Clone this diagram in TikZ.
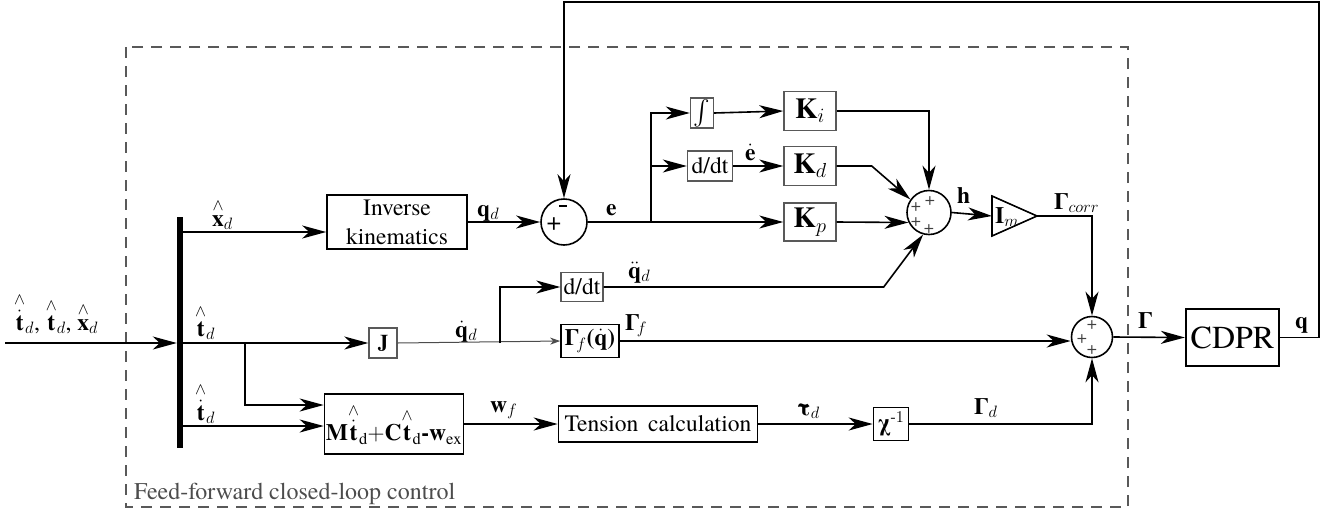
\documentclass[tikz,border=0pt]{standalone}
\usepackage{fix-cm}
\usepackage{amsmath}
\usepackage{fontspec}
\setmainfont{texgyretermes}[Extension=.otf, UprightFont=*-regular, BoldFont=*-bold, ItalicFont=*-italic, BoldItalicFont=*-bolditalic]
\usetikzlibrary{arrows.meta}

\newcommand{\bGam}{\text{\bfseries Γ}}
\newcommand{\bchi}{\text{\bfseries χ}}
\newcommand{\btau}{\text{\bfseries τ}}
\newcommand{\hatv}[1]{\overset{\wedge}{#1}}

\begin{document}
\begin{tikzpicture}[x=1pt,y=-1pt]
	\tikzstyle{every node}+=[inner sep=0pt, font=\fontsize{23.5}{29}\selectfont]
	\tikzstyle{blk}=[draw=black, line width=1.6pt, rectangle]
	\tikzstyle{gblk}=[draw=black!65, line width=1.4pt, rectangle]
	\tikzstyle{sum}=[draw=black, line width=1.6pt, circle]
	\tikzstyle{sig}=[black, line width=1.6pt]
	\tikzstyle{arr}=[sig, -{Stealth[length=24pt,width=13pt,inset=7pt]}]
	\tikzstyle{sarr}=[black!70, line width=1pt, -{Stealth[length=10pt,width=7pt,inset=3pt]}]
	\tikzstyle{lbl}=[anchor=base west]
	\tikzstyle{pl}=[text=black!75, font=\fontsize{18}{18}\selectfont]
	\useasboundingbox (0,0) rectangle (1331,512);
	% dashed frame
	\draw [black!65, line width=1.2pt, dash pattern=on 11pt off 8pt] (126,47) rectangle (1128,507);
	\node [lbl, text=black!70, font=\fontsize{24}{26}\selectfont] (ffc) at (134,499) {Feed-forward closed-loop control};
	% blocks
	\node [fill=black, minimum width=6, minimum height=231] (bar) at (180,332.5) {};
	\node [blk, align=center, minimum width=140, minimum height=54] (ik) at (397,222) {Inverse\\kinematics};
	\node [sum, minimum size=46] (sum1) at (564,222) {};
	\node [gblk, minimum width=23, minimum height=30, font=\fontsize{26}{26}\selectfont] (int) at (702,113) {$\int$};
	\node [gblk, minimum width=52, minimum height=39, font=\fontsize{29}{29}\selectfont] (ki) at (810,111) {$\mathbf{K}_i$};
	\node [gblk, minimum width=45, minimum height=30] (dif1) at (710,166) {d/dt};
	\node [gblk, minimum width=52, minimum height=39, font=\fontsize{29}{29}\selectfont] (kd) at (810,166) {$\mathbf{K}_d$};
	\node [gblk, minimum width=52, minimum height=38, font=\fontsize{29}{29}\selectfont] (kp) at (810,222) {$\mathbf{K}_p$};
	\node [sum, minimum size=44] (sum2) at (929,212.5) {};
	\draw [sig] (992,196) -- (1037,216) -- (992,236) -- cycle;
	\coordinate (imin) at (992,216);
	\coordinate (imout) at (1037,216);
	\node (iml) at (1007,217) {$\mathbf{I}_m$};
	\node [sum, minimum size=41] (sum3) at (1092,337) {};
	\node [draw=black, line width=2.2pt, minimum width=93, minimum height=57, font=\fontsize{32}{32}\selectfont] (cdpr) at (1232.5,337.5) {CDPR};
	\node [gblk, minimum width=28, minimum height=30, font=\fontsize{21}{21}\selectfont] (jb) at (383,343) {$\mathbf{J}$};
	\node [gblk, minimum width=42, minimum height=29] (dif2) at (582,287) {d/dt};
	\node [blk, minimum width=58, minimum height=33] (gf) at (590,341) {$\bGam_{\!f}$\textbf{(}$\dot{\mathbf{q}}$\textbf{)}};
	\node [blk, minimum width=139, minimum height=60] (mb) at (394,424) {$\mathbf{M}\hatv{\dot{\mathbf{t}}}_\mathrm{d}{+}\mathbf{C}\hatv{\mathbf{t}}_\mathrm{d}\textbf{-}\mathbf{w}_\mathrm{ex}$};
	\node [blk, minimum width=199, minimum height=36] (ten) at (658,424) {Tension~\,calculation};
	\node [blk, minimum width=35, minimum height=33] (chi) at (891,424) {$\bchi^{\text{-}1}$};
	% signs in the junctions
	\node (m1) at (563,206) {\rule{8pt}{2.5pt}};
	\node [font=\fontsize{26}{26}\selectfont] (p1) at (554,224) {+};
	\node [pl] (p2) at (916,207) {+};
	\node [pl] (p3) at (930,201) {+};
	\node [pl] (p4) at (916,222) {+};
	\node [pl] (p5) at (929,229) {+};
	\node [pl] (p6) at (1092,325) {+};
	\node [pl] (p7) at (1082,339) {+};
	\node [pl] (p8) at (1092,350) {+};
	% branch points
	\coordinate (in) at (5,343);
	\coordinate (r1) at (183,232);
	\coordinate (r2) at (183,343);
	\coordinate (r3) at (183,426);
	\coordinate (b1) at (651,222);
	\coordinate (b2) at (245,343);
	\coordinate (b3) at (500,343);
	\coordinate (fb) at (1319,2);
	% connections
	\draw [arr] (in) -- (bar.west |- in);
	\draw [arr] (r1) -- (r1 -| ik.west);
	\draw [arr] (ik.east) -- (sum1.west);
	\draw [arr] (sum1.east) -- (kp.west);
	\draw [arr] (b1) |- (int.west);
	\draw [arr] (b1 |- dif1) -- (dif1.west);
	\draw [arr] (int.east) -- (ki.west);
	\draw [arr] (dif1.east) -- (kd.west);
	\draw [arr] (ki.east) -| (sum2.north);
	\draw [arr] (kd.east) -- ++(35,0) -- (sum2.145);
	\draw [arr] (kp.east) -- (sum2.206);
	\draw [arr] (dif2.east) -- ++(280,0) -- (sum2.255);
	\draw [arr] (sum2.east) -- (imin);
	\draw [arr] (imout) -| (sum3.north);
	\draw [arr] (r2) -- (jb.west);
	\draw [sarr] (jb.east) -- (gf.west);
	\draw [arr] (b3) |- (dif2.west);
	\draw [arr] (gf.east) -- (gf.east -| sum3.west);
	\draw [arr] (b2) |- ([yshift=19pt]mb.west);
	\draw [arr] (r3) -- (r3 -| mb.west);
	\draw [arr] (mb.east) -- (ten.west);
	\draw [arr] (ten.east) -- (chi.west);
	\draw [arr] (chi.east) -| (sum3.south);
	\draw [arr] (sum3.east) -- (cdpr.west);
	\draw [arr] (cdpr.east) -| (fb) -| (sum1.north);
	% signal labels
	\node [lbl] (lin) at (14,330) {$\hatv{\dot{\mathbf{t}}}_d$, $\hatv{\mathbf{t}}_d$, $\hatv{\mathbf{x}}_d$};
	\node [lbl] (lxd) at (212,226) {$\hatv{\mathbf{x}}_d$};
	\node [lbl] (ltd) at (195,336) {$\hatv{\mathbf{t}}_d$};
	\node [lbl] (ltdd) at (195,420) {$\hatv{\dot{\mathbf{t}}}_d$};
	\node [lbl] (lqd) at (477,216) {$\mathbf{q}_d$};
	\node [lbl] (le) at (606,215) {$\mathbf{e}$};
	\node [lbl] (led) at (745,160) {$\dot{\mathbf{e}}$};
	\node [lbl] (lh) at (957,203) {$\mathbf{h}$};
	\node [lbl] (lgc) at (1054,209) {$\bGam_{corr}$};
	\node [lbl] (lg) at (1138,328) {$\bGam$};
	\node [lbl] (lq) at (1295,328) {$\mathbf{q}$};
	\node [lbl] (lqdd) at (455,337) {$\dot{\mathbf{q}}_d$};
	\node [lbl] (lqddd) at (628,278) {$\ddot{\mathbf{q}}_d$};
	\node [lbl] (lgf) at (625,330) {$\bGam_{\!f}$};
	\node [lbl] (lwf) at (490,412) {$\mathbf{w}_f$};
	\node [lbl] (ltau) at (797,415) {$\btau_d$};
	\node [lbl] (lgd) at (974,414) {$\bGam_d$};
\end{tikzpicture}
\end{document}
